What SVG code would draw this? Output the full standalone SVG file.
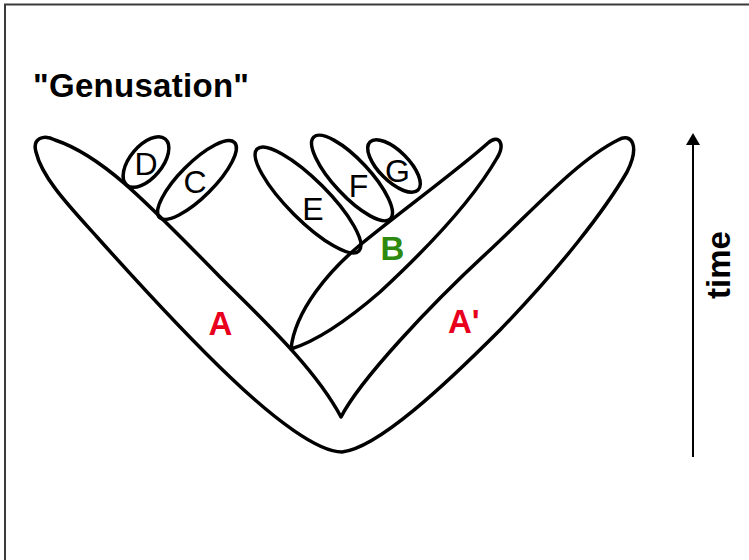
<svg xmlns="http://www.w3.org/2000/svg" width="749" height="560" viewBox="0 0 749 560">
  <style>
    .outline { fill: none; stroke: #000; stroke-width: 3.5; stroke-linejoin: round; }
    .lbl { font-family: "Liberation Sans", Arial, sans-serif; font-size: 32px; fill: #000; text-anchor: middle; }
    .big { font-family: "Liberation Sans", Arial, sans-serif; font-weight: bold; font-size: 33px; }
    .red { fill: #e8001c; }
    .green { fill: #2e8a0e; }
  </style>
  <defs>
    <marker id="arrowhead" viewBox="0 0 12 14" refX="2" refY="7" markerWidth="12" markerHeight="14" markerUnits="userSpaceOnUse" orient="auto">
      <path d="M0,0 L12,7 L0,14 Z" fill="#000"/>
    </marker>
  </defs>

  <rect width="749" height="560" fill="#fff"/>
  <!-- frame: top and left edges only -->
  <path d="M5,560 L5,4.5 L749,4.5" fill="none" stroke="#3a3a3a" stroke-width="2"/>

  <text class="big" x="33" y="97" textLength="216">"Genusation"</text>

  <!-- lineage A / A' : the V-shaped outline -->
  <g id="lineage-A">
    <path class="outline" d="M55,140 C100,155 140,195 220,277 C262,319 315,368 341,417 C360,380 430,305 490,250 C535,208 578,160 618,140 C632,132 640,146 627,172 C605,210 560,268 500,330 C445,385 378,448 342,452 C318,452 275,420 230,377 C190,339 140,285 97,237 C70,207 42,178 36,152 C32,138 44,134 55,140 Z"/>
    <text class="big red" x="220.5" y="335" text-anchor="middle">A</text>
    <text class="big red" x="448" y="333">A'</text>
  </g>

  <g id="lineage-B">
    <path class="outline" d="M291,349 C295,310 330,270 360,245 C400,212 458,170 488,143 C500,133 505,145 497,158 C470,205 420,255 380,292 C350,318 320,340 291,349 Z"/>
    <text class="big green" x="392.5" y="260" text-anchor="middle">B</text>
  </g>

  <g id="lineage-D">
    <ellipse class="outline" cx="146" cy="162" rx="30" ry="16" transform="rotate(-50 146 162)"/>
    <text class="lbl" x="146" y="175">D</text>
  </g>

  <g id="lineage-C">
    <ellipse class="outline" cx="197" cy="180" rx="53" ry="17" transform="rotate(-45 197 180)"/>
    <text class="lbl" x="195" y="193">C</text>
  </g>

  <g id="lineage-E">
    <ellipse class="outline" cx="308" cy="200" rx="72" ry="20" transform="rotate(45 308 200)"/>
    <text class="lbl" x="313" y="220">E</text>
  </g>

  <g id="lineage-F">
    <ellipse class="outline" cx="352" cy="178" rx="56" ry="18" transform="rotate(47 352 178)"/>
    <text class="lbl" x="358.5" y="197">F</text>
  </g>

  <g id="lineage-G">
    <ellipse class="outline" cx="394" cy="166" rx="34" ry="15" transform="rotate(45 394 166)"/>
    <text class="lbl" x="397.5" y="182">G</text>
  </g>

  <!-- time axis -->
  <g id="connectors">
    <line x1="693" y1="457" x2="693" y2="143" stroke="#000" stroke-width="2" marker-end="url(#arrowhead)"/>
  </g>
  <text class="big" x="0" y="0" transform="translate(730 265) rotate(-90)" text-anchor="middle" font-size="31">time</text>
</svg>
